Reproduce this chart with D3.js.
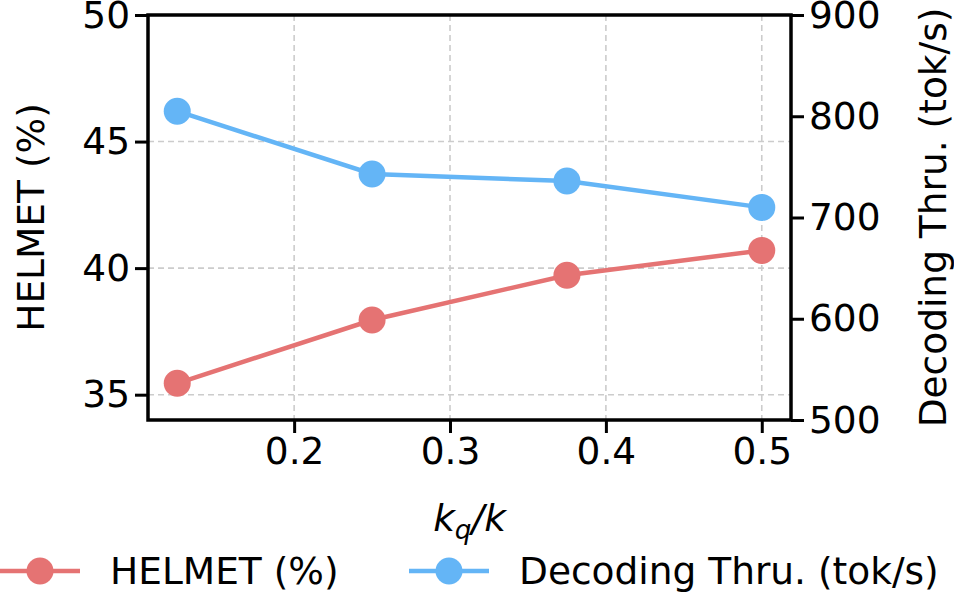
<!DOCTYPE html>
<html>
<head>
<meta charset="utf-8">
<script src="https://cdn.jsdelivr.net/npm/d3@7"></script>
<style>
  html,body{margin:0;padding:0;background:#fff;}
  svg{display:block;font-family:"DejaVu Sans",sans-serif;}
</style>
</head>
<body>
<div id="chart"></div>
<script>
// data
const ratios=[0.125,0.25,0.375,0.5];
const helmet=[35.45,37.95,39.72,40.7];
const thru=[805,743,736,710];
const xTicks=[0.2,0.3,0.4,0.5];
const leftTicks=[35,40,45,50];
const rightTicks=[500,600,700,800,900];
const seriesNames=["HELMET (%)","Decoding Thru. (tok/s)"];

(function(){
  const W=954,H=592;
  const red="#e57373",blue="#64b5f6";
  const m={top:15,right:163,bottom:172,left:148};
  const w=W-m.left-m.right, ih=H-m.top-m.bottom;
  const fs=37.5;

  const svg=d3.select("#chart").append("svg").attr("width",W).attr("height",H);
  const g=svg.append("g").attr("transform",`translate(${m.left},${m.top})`);

  const x=d3.scaleLinear().domain([0.10625,0.51875]).range([0,w]);
  const yL=d3.scaleLinear().domain([34,50]).range([ih,0]);
  const yR=d3.scaleLinear().domain([500,900]).range([ih,0]);

  // grid
  const grid=g.append("g").attr("stroke","#cccccc").attr("stroke-width",1.6).attr("stroke-dasharray","6,4");
  grid.selectAll(".gx").data(xTicks).join("line")
    .attr("x1",d=>x(d)).attr("x2",d=>x(d)).attr("y1",0).attr("y2",ih);
  grid.selectAll(".gy").data(leftTicks).join("line")
    .attr("y1",d=>yL(d)).attr("y2",d=>yL(d)).attr("x1",0).attr("x2",w);

  const styleAxis=s=>{
    s.select(".domain").remove();
    s.selectAll("line").attr("stroke","#000").attr("stroke-width",3);
    s.selectAll("text").attr("fill","#000").attr("font-size",fs).attr("font-family","DejaVu Sans");
  };
  g.append("g").attr("transform",`translate(0,${ih})`)
    .call(d3.axisBottom(x).tickValues(xTicks).tickFormat(d3.format(".1f")).tickSize(13).tickPadding(4))
    .call(styleAxis);
  g.append("g")
    .call(d3.axisLeft(yL).tickValues(leftTicks).tickFormat(d3.format("d")).tickSize(13).tickPadding(5))
    .call(styleAxis);
  g.append("g").attr("transform",`translate(${w},0)`)
    .call(d3.axisRight(yR).tickValues(rightTicks).tickFormat(d3.format("d")).tickSize(13).tickPadding(5))
    .call(styleAxis);

  // frame
  g.append("rect").attr("width",w).attr("height",ih).attr("fill","none")
    .attr("stroke","#000").attr("stroke-width",3.5);

  // series
  const series=[
    {vals:helmet,y:yL,color:red},
    {vals:thru,y:yR,color:blue}
  ];
  series.forEach(s=>{
    const pts=ratios.map((r,i)=>[r,s.vals[i]]);
    g.append("path").datum(pts).attr("fill","none").attr("stroke",s.color).attr("stroke-width",4.5)
      .attr("d",d3.line().x(d=>x(d[0])).y(d=>s.y(d[1])));
    g.selectAll(null).data(pts).join("circle")
      .attr("cx",d=>x(d[0])).attr("cy",d=>s.y(d[1])).attr("r",13.5).attr("fill",s.color);
  });

  // axis titles
  svg.append("text").attr("transform",`translate(44,${m.top+ih/2}) rotate(-90)`)
    .attr("text-anchor","middle").attr("font-size",fs).text("HELMET (%)");
  svg.append("text").attr("transform",`translate(946,${m.top+ih/2}) rotate(-90)`)
    .attr("text-anchor","middle").attr("font-size",fs).text("Decoding Thru. (tok/s)");
  const xt=svg.append("text").attr("x",m.left+w/2).attr("y",531).attr("text-anchor","middle")
    .attr("font-size",fs).attr("font-style","italic");
  xt.append("tspan").text("k");
  xt.append("tspan").attr("font-size",fs*0.7).attr("dy",8).text("q");
  xt.append("tspan").attr("dy",-8).text("/k");

  // legend
  const leg=[{x:0,color:red,name:seriesNames[0]},{x:409,color:blue,name:seriesNames[1]}];
  const ly=571;
  leg.forEach(l=>{
    svg.append("line").attr("x1",l.x).attr("x2",l.x+80).attr("y1",ly).attr("y2",ly)
      .attr("stroke",l.color).attr("stroke-width",4.5);
    svg.append("circle").attr("cx",l.x+40).attr("cy",ly).attr("r",13.5).attr("fill",l.color);
    svg.append("text").attr("x",l.x+110).attr("y",ly+13).attr("font-size",fs).text(l.name);
  });
})();
</script>
</body>
</html>
